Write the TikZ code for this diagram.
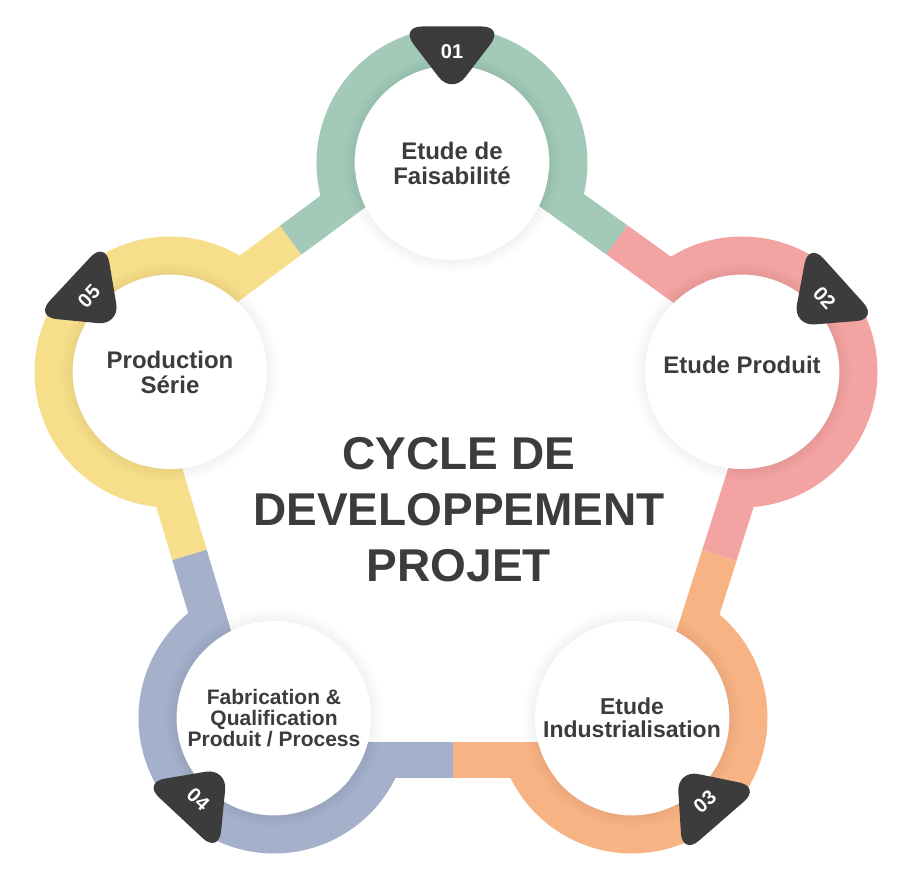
\documentclass[tikz,border=0pt]{standalone}
\usepackage{fontspec}
\setmainfont{Liberation Sans}
\usetikzlibrary{calc}
\definecolor{sage}{HTML}{A3C9B9}
\definecolor{rose}{HTML}{F4A3A3}
\definecolor{peach}{HTML}{F8B385}
\definecolor{slate}{HTML}{A5B1CB}
\definecolor{sand}{HTML}{F6DE8B}
\definecolor{ink}{HTML}{3C3C3C}
\def\ringarc[#1](#2)(#3:#4:#5){\draw[#1] ($(#2)+(#3:#5)$) arc (#3:#4:#5);}

\begin{document}
\begin{tikzpicture}[x=1pt, y=1pt,
		ring/.style={line width=38pt},
		link/.style={line width=36pt},
		disc/.style={circle, fill=white, minimum size=194pt, inner sep=0pt, align=center, text=ink, font=\bfseries\fontsize{24}{25}\selectfont},
		badge/.style={fill=ink, rounded corners=22pt},
		num/.style={text=white, inner sep=0pt, font=\bfseries\fontsize{20}{20}\selectfont},
		title/.style={align=center, text=ink, inner sep=0pt, font=\bfseries\fontsize{46}{56}\selectfont}]
		%%%%% START %%%%%
		
		\useasboundingbox (0, 0) rectangle (916, 881);
		
		\coordinate (c1) at (452, 718);
		\coordinate (c2) at (742, 509);
		\coordinate (c3) at (632, 163);
		\coordinate (c4) at (274, 163);
		\coordinate (c5) at (170, 509);
		
		% links, each half in the colour of its circle
		\foreach \i/\j/\ci/\cj/\off in {1/2/sage/rose/34, 2/3/rose/peach/34, 3/4/peach/slate/42, 4/5/slate/sand/34, 5/1/sand/sage/34}{
			\draw[link, \ci] ($(c\i)!\off pt!90:(c\j)$) -- ($(c\i)!.5!(c\j)!\off pt!90:(c\j)$);
			\draw[link, \cj] ($(c\i)!.5!(c\j)!\off pt!90:(c\j)$) -- ($(c\j)!\off pt!-90:(c\i)$);
		}
		
		% rings round the outer side
		\ringarc[ring, sage](c1)(199.6:-18.8:116.5pt);
		\ringarc[ring, rose](c2)(127.3:-90.7:116.5pt);
		\ringarc[ring, peach](c3)(55.4:-158.9:116.5pt);
		\ringarc[ring, slate](c4)(-21.1:-236.3:116.5pt);
		\ringarc[ring, sand](c5)(269.8:53.5:116.5pt);
		
		% soft glow
		\foreach \k in {1,...,5}
			\foreach \r in {2,4,...,12}
				\fill[black, opacity=.008] (c\k) circle (97+\r);
		
		\node[disc] (s1) at (c1) {Etude de\\Faisabilité};
		\node[disc, text depth=14pt] (s2) at (c2) {Etude Produit};
		\node[disc, font=\bfseries\fontsize{23}{23}\selectfont] (s3) at (c3) {Etude\\Industrialisation};
		\node[disc, font=\bfseries\fontsize{21}{21}\selectfont] (s4) at (c4) {Fabrication \&\\Qualification\\Produit / Process};
		\node[disc] (s5) at (c5) {Production\\Série};
		
		\foreach \k/\a/\t in {1/90/0, 2/42/-48, 3/-49/41, 4/-133/-43, 5/137/47}{
			\fill[badge, shift={($(c\k)+(\a:116.5)$)}, rotate=\a-90] (-52, 20) -- (52, 20) -- (0, -48) -- cycle;
			\node[num, rotate=\t] (b\k) at ($(c\k)+(\a:111)$) {0\k};
		}
		
		\node[title] (title) at (459, 371.5) {CYCLE DE\\DEVELOPPEMENT\\PROJET};
		
		%%%%% END %%%%%
	\end{tikzpicture}
\end{document}
